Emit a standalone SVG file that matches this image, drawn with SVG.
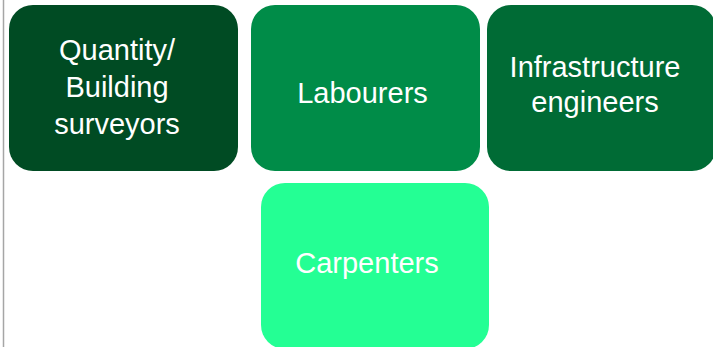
<svg xmlns="http://www.w3.org/2000/svg" width="713" height="347" viewBox="0 0 713 347">
<style>
.box{stroke:none}
.lbl{font-family:"Liberation Sans",Arial,sans-serif;font-size:29px;fill:#ffffff;text-anchor:middle}
</style>
<rect x="0" y="0" width="713" height="347" fill="#ffffff"/>
<line x1="3.5" y1="0" x2="3.5" y2="347" stroke="#a6a6a6" stroke-width="1.5"/>
<g id="connectors"></g>
<g id="node-surveyors">
<rect class="box" x="9" y="5" width="229" height="166" rx="24" fill="#004B23"/>
<text class="lbl" x="117" y="60">Quantity/</text>
<text class="lbl" x="117" y="97">Building</text>
<text class="lbl" x="117" y="134">surveyors</text>
</g>
<g id="node-labourers">
<rect class="box" x="251" y="5" width="229" height="166" rx="24" fill="#008C48"/>
<text class="lbl" x="362.5" y="103">Labourers</text>
</g>
<g id="node-infrastructure">
<rect class="box" x="487" y="5" width="229" height="166" rx="24" fill="#006B35"/>
<text class="lbl" x="595" y="77">Infrastructure</text>
<text class="lbl" x="595" y="112">engineers</text>
</g>
<g id="node-carpenters">
<rect class="box" x="261" y="183" width="228" height="166" rx="24" fill="#24FF94"/>
<text class="lbl" x="367" y="273">Carpenters</text>
</g>
</svg>
